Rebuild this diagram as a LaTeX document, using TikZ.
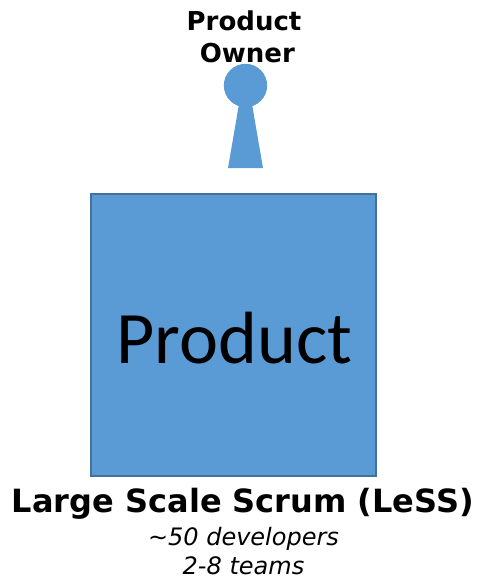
\documentclass[tikz,border=0pt]{standalone}
\usepackage{fontspec}
\setmainfont{DejaVu Sans}
\newfontfamily\carl{Carlito}
\definecolor{fillblue}{HTML}{5B9BD5}
\definecolor{edgeblue}{HTML}{41719C}
\tikzset{lbl/.style={inner sep=0pt,text=black,align=center}}
\begin{document}
\begin{tikzpicture}[x=1pt,y=-1pt,scale=0.75]
\useasboundingbox (0,0) rectangle (477,579);
\node[draw=edgeblue,fill=fillblue,line width=1.6pt,minimum width=213.5pt,minimum height=211pt,inner sep=0pt] (product) at (233.3,335) {};
\node[lbl,font=\carl\fontsize{55.5}{60}\selectfont] (ptext) at (234.5,338) {Product};
\fill[fillblue] (239,104) -- (252,104) -- (263,168) -- (228,168) -- cycle;
\node[circle,fill=fillblue,minimum size=32.5pt,inner sep=0pt] (head) at (245.5,85.5) {};
\node[lbl,font=\bfseries\fontsize{19.5}{24}\selectfont] (owner) at (244,36.5) {Product\\ \hspace*{5pt}Owner};
\node[lbl,font=\bfseries\fontsize{24}{20}\selectfont] (title) at (243,504) {Large Scale Scrum (LeSS)};
\node[lbl,font=\itshape\fontsize{18}{22}\selectfont] (sub) at (243.5,551) {\textasciitilde50 developers\\2-8 teams};
\end{tikzpicture}
\end{document}
